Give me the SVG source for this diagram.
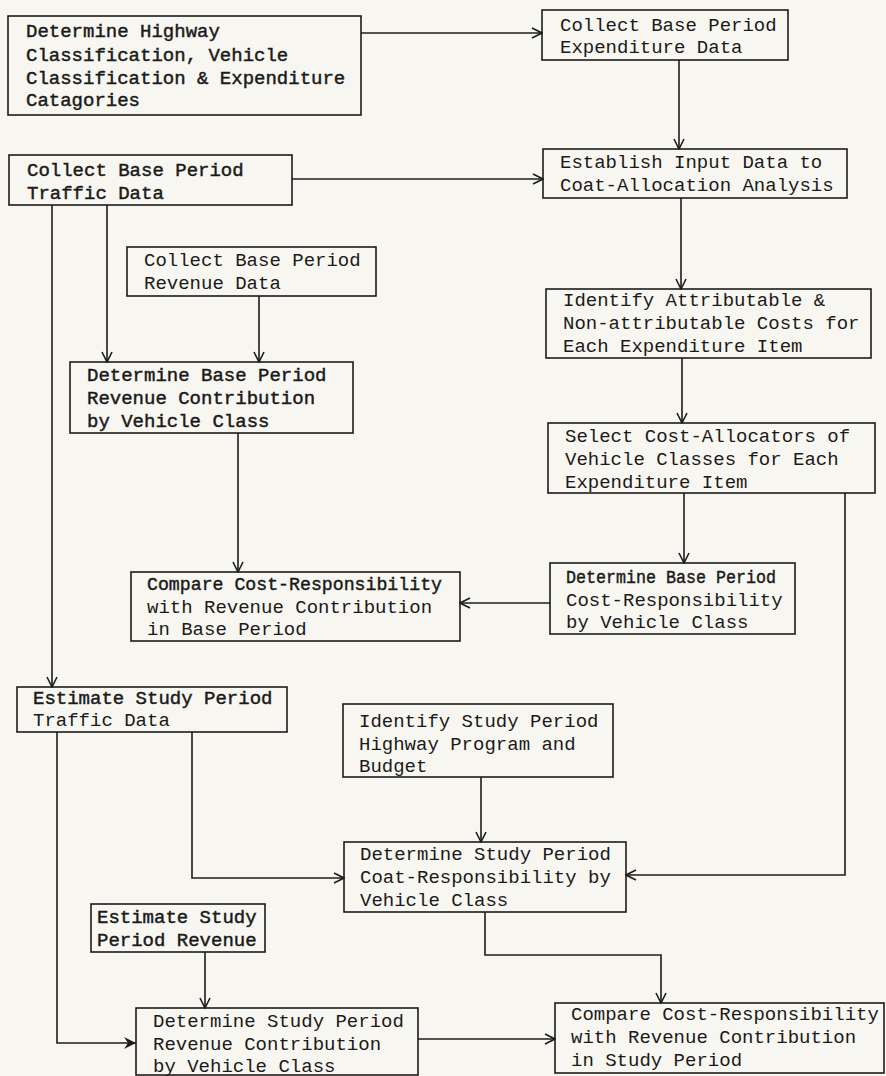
<svg xmlns="http://www.w3.org/2000/svg" width="886" height="1076" viewBox="0 0 886 1076">
  <defs>
    <style>
      .box { fill: none; stroke: #1c1c1c; stroke-width: 1.6; }
      .t { font-family: "Liberation Mono", "DejaVu Sans Mono", monospace; font-size: 19px; fill: #1a1a1a; }
      .b { stroke: #1a1a1a; stroke-width: 0.45; }
      .edge { fill: none; stroke: #1c1c1c; stroke-width: 1.6; }
    </style>
    <marker id="arr" viewBox="0 0 12 12" refX="11" refY="6" markerWidth="12" markerHeight="12" markerUnits="userSpaceOnUse" orient="auto">
      <polyline points="1,1 11,6 1,11" fill="none" stroke="#1c1c1c" stroke-width="1.6"/>
    </marker>
    <marker id="arrSolid" viewBox="0 0 14 14" refX="13" refY="7" markerWidth="14" markerHeight="14" markerUnits="userSpaceOnUse" orient="auto">
      <path d="M1,1 L13,7 L1,13 L5,7 Z" fill="#1c1c1c"/>
    </marker>
  </defs>

  <rect width="886" height="1076" fill="#f8f6f0"/>

  <!-- connectors -->
  <g id="connectors">
    <path class="edge" d="M361,33 H542" marker-end="url(#arr)"/>
    <path class="edge" d="M679,60 V149" marker-end="url(#arr)"/>
    <path class="edge" d="M292,179 H543" marker-end="url(#arr)"/>
    <path class="edge" d="M681,198 V289" marker-end="url(#arr)"/>
    <path class="edge" d="M682,358 V423" marker-end="url(#arr)"/>
    <path class="edge" d="M684,493 V563" marker-end="url(#arr)"/>
    <path class="edge" d="M550,603 H460" marker-end="url(#arr)"/>
    <path class="edge" d="M107,205 V362" marker-end="url(#arr)"/>
    <path class="edge" d="M259,296 V362" marker-end="url(#arr)"/>
    <path class="edge" d="M238,433 V572" marker-end="url(#arr)"/>
    <path class="edge" d="M52,205 V687" marker-end="url(#arr)"/>
    <path class="edge" d="M845,493 V875 H626" marker-end="url(#arr)"/>
    <path class="edge" d="M192,732 V878 H344" marker-end="url(#arr)"/>
    <path class="edge" d="M481,777 V842" marker-end="url(#arr)"/>
    <path class="edge" d="M57,732 V1043 H136" marker-end="url(#arrSolid)"/>
    <path class="edge" d="M205,952 V1008" marker-end="url(#arr)"/>
    <path class="edge" d="M485,912 V955 H661 V1003" marker-end="url(#arr)"/>
    <path class="edge" d="M418,1039 H555" marker-end="url(#arr)"/>
  </g>

  <g id="n-classification">
    <rect class="box" x="8" y="16" width="353" height="99"/>
    <text class="t b" x="26" y="37">Determine Highway</text>
    <text class="t b" x="26" y="61">Classification, Vehicle</text>
    <text class="t b" x="26" y="84">Classification &amp; Expenditure</text>
    <text class="t b" x="26" y="106">Catagories</text>
  </g>

  <g id="n-expenditure-data">
    <rect class="box" x="542" y="10" width="246" height="50"/>
    <text class="t" x="560" y="31">Collect Base Period</text>
    <text class="t" x="560" y="53">Expenditure Data</text>
  </g>

  <g id="n-traffic-data">
    <rect class="box" x="9" y="155" width="283" height="50"/>
    <text class="t b" x="27" y="176">Collect Base Period</text>
    <text class="t b" x="27" y="199">Traffic Data</text>
  </g>

  <g id="n-input-data">
    <rect class="box" x="543" y="149" width="304" height="49"/>
    <text class="t" x="560" y="168">Establish Input Data to</text>
    <text class="t" x="560" y="191">Coat-Allocation Analysis</text>
  </g>

  <g id="n-revenue-data">
    <rect class="box" x="127" y="247" width="249" height="49"/>
    <text class="t" x="144" y="266">Collect Base Period</text>
    <text class="t" x="144" y="289">Revenue Data</text>
  </g>

  <g id="n-attributable">
    <rect class="box" x="546" y="289" width="325" height="69"/>
    <text class="t" x="563" y="306">Identify Attributable &amp;</text>
    <text class="t" x="563" y="329">Non-attributable Costs for</text>
    <text class="t" x="563" y="352">Each Expenditure Item</text>
  </g>

  <g id="n-base-revenue">
    <rect class="box" x="70" y="362" width="283" height="71"/>
    <text class="t b" x="87" y="381">Determine Base Period</text>
    <text class="t b" x="87" y="404">Revenue Contribution</text>
    <text class="t b" x="87" y="427">by Vehicle Class</text>
  </g>

  <g id="n-allocators">
    <rect class="box" x="548" y="423" width="327" height="70"/>
    <text class="t" x="565" y="442">Select Cost-Allocators of</text>
    <text class="t" x="565" y="465">Vehicle Classes for Each</text>
    <text class="t" x="565" y="488">Expenditure Item</text>
  </g>

  <g id="n-base-cost">
    <rect class="box" x="550" y="563" width="245" height="71"/>
    <text class="t b" x="566" y="583" textLength="210" lengthAdjust="spacingAndGlyphs">Determine Base Period</text>
    <text class="t" x="566" y="606">Cost-Responsibility</text>
    <text class="t" x="566" y="628">by Vehicle Class</text>
  </g>

  <g id="n-compare-base">
    <rect class="box" x="131" y="572" width="329" height="69"/>
    <text class="t b" x="147" y="590" textLength="295" lengthAdjust="spacingAndGlyphs">Compare Cost-Responsibility</text>
    <text class="t" x="147" y="613">with Revenue Contribution</text>
    <text class="t" x="147" y="635">in Base Period</text>
  </g>

  <g id="n-study-traffic">
    <rect class="box" x="17" y="687" width="270" height="45"/>
    <text class="t b" x="33" y="704">Estimate Study Period</text>
    <text class="t" x="33" y="726">Traffic Data</text>
  </g>

  <g id="n-program-budget">
    <rect class="box" x="343" y="704" width="270" height="73"/>
    <text class="t" x="359" y="727">Identify Study Period</text>
    <text class="t" x="359" y="750">Highway Program and</text>
    <text class="t" x="359" y="772">Budget</text>
  </g>

  <g id="n-study-cost">
    <rect class="box" x="344" y="842" width="282" height="70"/>
    <text class="t" x="360" y="860">Determine Study Period</text>
    <text class="t" x="360" y="883">Coat-Responsibility by</text>
    <text class="t" x="360" y="906">Vehicle Class</text>
  </g>

  <g id="n-study-revenue">
    <rect class="box" x="91" y="904" width="174" height="48" stroke-width="2"/>
    <text class="t b" x="97" y="923">Estimate Study</text>
    <text class="t b" x="97" y="946">Period Revenue</text>
  </g>

  <g id="n-study-contribution">
    <rect class="box" x="136" y="1008" width="282" height="67"/>
    <text class="t" x="153" y="1027">Determine Study Period</text>
    <text class="t" x="153" y="1050">Revenue Contribution</text>
    <text class="t" x="153" y="1072">by Vehicle Class</text>
  </g>

  <g id="n-compare-study">
    <rect class="box" x="555" y="1003" width="329" height="70"/>
    <text class="t" x="571" y="1020">Compare Cost-Responsibility</text>
    <text class="t" x="571" y="1043">with Revenue Contribution</text>
    <text class="t" x="571" y="1066">in Study Period</text>
  </g>
</svg>
